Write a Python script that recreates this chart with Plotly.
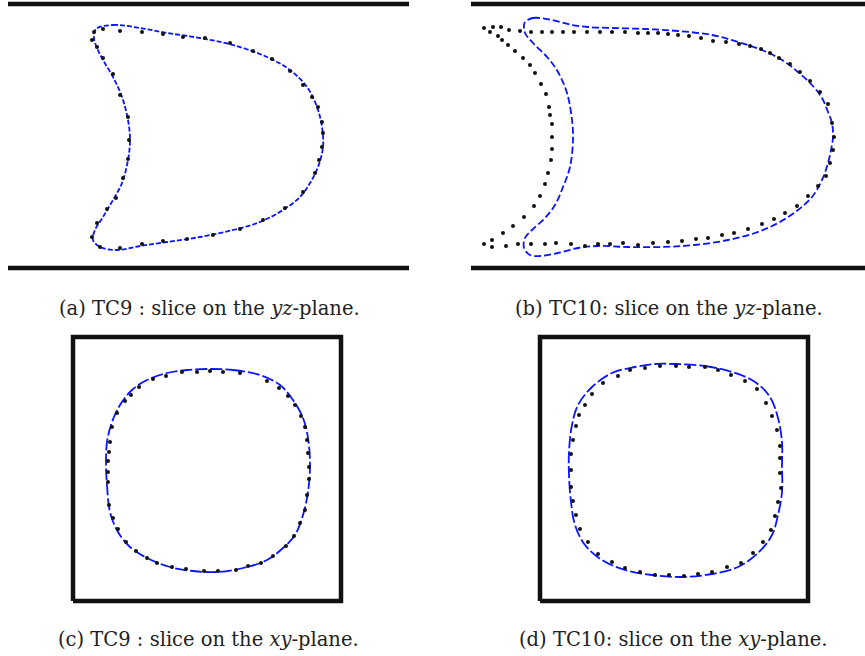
"""Interface slices TC9 / TC10 -- yz and xy planes"""
import plotly.graph_objects as go

W, H = 865, 656

# walls / box, in panel units (1 unit ~ 1 px)
WALL_Z = [0, 264]
WALL_A_X = [0, 401]
WALL_B_X = [0, 394]
BOX_X = [0, 268, 268, 0, 0]
BOX_Y = [0, 0, 264, 264, 0]

# (a) TC9, yz-plane
a_blue = [(88, 239), (105, 243), (132, 240), (159, 235), (192, 230), (225, 223), (259, 211),
          (282, 198), (299, 181), (309, 161), (314, 141), (315, 121), (310, 101), (302, 85),
          (292, 71), (275, 58), (252, 46), (225, 38), (192, 31), (159, 26), (132, 22),
          (109, 18), (92, 21), (85, 28), (87, 38), (95, 51), (105, 68), (114, 85), (120, 108),
          (122, 128), (120, 148), (114, 171), (105, 191), (95, 208), (89, 220), (86, 230),
          (88, 239)]
a_dots = [(86, 236), (95, 239), (112, 237), (134, 236), (155, 234), (175, 231), (197, 230),
          (222, 225), (245, 217), (264, 209), (282, 197), (295, 183), (304, 171), (310, 161),
          (314, 146), (315, 135), (314, 121), (311, 108), (307, 95), (295, 76), (277, 60),
          (255, 48), (232, 39), (205, 33), (179, 29), (155, 27), (134, 24), (112, 20), (92, 21),
          (84, 31), (89, 45), (99, 59), (108, 70), (115, 90), (120, 109), (121, 128), (120, 151),
          (112, 173), (105, 194), (95, 210), (89, 221), (84, 228)]

# (b) TC10, yz-plane
b_blue = [(54, 246), (62, 250), (81, 248), (101, 243), (117, 241), (141, 240), (174, 239),
          (207, 237), (241, 233), (267, 226), (291, 218), (311, 208), (327, 196), (341, 183),
          (351, 170), (357, 156), (361, 145), (362, 131), (360, 118), (357, 105), (351, 88),
          (341, 71), (327, 58), (307, 45), (284, 35), (257, 28), (224, 23), (191, 21), (157, 21),
          (127, 22), (107, 20), (87, 15), (69, 12), (59, 13), (53, 20), (54, 30), (61, 38),
          (74, 50), (84, 63), (92, 81), (99, 101), (102, 128), (101, 148), (96, 175), (87, 196),
          (77, 210), (62, 225), (54, 235), (53, 243), (54, 246)]
b_dots = [(13, 240), (22, 241), (30, 241), (19, 236), (27, 232), (38, 238), (49, 237), (60, 236),
          (71, 236), (81, 236), (92, 236), (103, 236), (116, 236), (129, 236), (141, 236),
          (154, 236), (167, 235), (177, 235), (187, 235), (197, 234), (207, 233), (218, 232),
          (230, 230), (242, 227), (255, 226), (268, 224), (279, 222), (290, 219), (299, 215),
          (308, 210), (319, 204), (329, 196), (339, 187), (349, 176), (357, 164), (361, 145),
          (363, 131), (362, 118), (359, 105), (355, 92), (347, 82), (337, 72), (326, 62),
          (314, 55), (303, 49), (291, 44), (277, 39), (263, 35), (251, 33), (237, 30), (225, 29),
          (211, 27), (197, 26), (182, 25), (167, 23), (152, 25), (139, 24), (127, 24), (114, 22),
          (100, 24), (85, 25), (74, 24), (60, 24), (47, 24), (35, 22), (21, 28), (21, 21),
          (13, 24), (32, 35), (42, 42), (53, 51), (63, 62), (69, 72), (74, 84), (77, 95),
          (80, 108), (81, 119), (81, 131), (81, 144), (79, 153), (78, 161), (75, 174), (70, 184),
          (64, 195), (59, 203), (52, 210), (44, 217), (37, 223), (31, 228)]

# (c) TC9, xy-plane
c_blue = [(134, 232), (160, 231), (187, 226), (207, 216), (220, 201), (230, 183), (235, 163),
          (237, 136), (235, 109), (230, 86), (222, 66), (210, 53), (194, 41), (170, 33),
          (144, 29), (120, 30), (97, 34), (74, 43), (57, 54), (45, 69), (37, 89), (34, 116),
          (33, 136), (34, 159), (39, 179), (47, 196), (59, 211), (74, 221), (94, 228),
          (114, 231), (134, 232)]
c_dots = [(93, 225), (109, 229), (124, 229), (137, 230), (150, 229), (167, 228), (194, 220),
          (206, 213), (215, 205), (222, 196), (228, 185), (232, 174), (234, 161), (235, 148),
          (236, 134), (236, 122), (234, 106), (232, 91), (227, 78), (221, 65), (213, 55),
          (200, 45), (188, 38), (175, 35), (163, 31), (145, 30), (131, 30), (113, 32), (99, 34),
          (84, 38), (74, 43), (63, 50), (53, 59), (45, 72), (40, 83), (36, 96), (35, 119),
          (35, 129), (35, 140), (36, 149), (37, 159), (39, 174), (44, 188), (52, 200), (58, 206),
          (66, 214), (80, 222)]

# (d) TC10, xy-plane
d_blue = [(135, 237), (165, 235), (192, 229), (215, 219), (230, 204), (238, 183), (242, 159),
          (242, 136), (242, 109), (238, 86), (232, 66), (218, 48), (198, 34), (172, 27),
          (142, 24), (112, 26), (85, 31), (62, 41), (45, 56), (35, 76), (31, 99), (29, 126),
          (29, 149), (32, 176), (38, 196), (52, 214), (72, 228), (95, 234), (115, 237),
          (135, 237)]
d_dots = [(120, 235), (136, 235), (149, 234), (165, 234), (178, 231), (191, 226), (205, 220),
          (217, 212), (226, 198), (232, 185), (237, 171), (240, 155), (240, 143), (240, 128),
          (241, 113), (238, 99), (235, 85), (231, 71), (223, 59), (213, 48), (201, 38), (187, 34),
          (172, 29), (158, 27), (144, 25), (129, 26), (115, 26), (100, 29), (85, 33), (72, 39),
          (58, 47), (48, 59), (40, 72), (36, 86), (33, 100), (31, 114), (31, 131), (31, 147),
          (33, 161), (36, 175), (39, 186), (45, 196), (52, 207), (63, 218), (78, 225), (90, 231),
          (105, 233)]

CAPTIONS = ["(a) TC9 : slice on the <i>yz</i>-plane.",
            "(b) TC10: slice on the <i>yz</i>-plane.",
            "(c) TC9 : slice on the <i>xy</i>-plane.",
            "(d) TC10: slice on the <i>xy</i>-plane."]

# panel boxes in page px: (left, top, right, bottom), and where local (0,0) sits
PANELS = [
    dict(box=(0, 0, 420, 280), origin=(8, 268), walls="a", blue=a_blue, dots=a_dots,
         dash="5px,2px", cap=(209, 309)),
    dict(box=(445, 0, 865, 280), origin=(471, 268), walls="b", blue=b_blue, dots=b_dots,
         dash="7px,3px", cap=(669, 309)),
    dict(box=(60, 325, 360, 615), origin=(73, 601), walls="box", blue=c_blue, dots=c_dots,
         dash="12px,3px", cap=(208, 639)),
    dict(box=(525, 325, 825, 615), origin=(540, 601), walls="box", blue=d_blue, dots=d_dots,
         dash="12px,3px", cap=(673, 639)),
]

fig = go.Figure()
layout = {}
for i, p in enumerate(PANELS, start=1):
    l, t, r, b = p["box"]
    ox, oy = p["origin"]
    xa = "x" if i == 1 else f"x{i}"
    ya = "y" if i == 1 else f"y{i}"
    layout["xaxis" if i == 1 else f"xaxis{i}"] = dict(
        domain=[l / W, r / W], range=[l - ox, r - ox], visible=False, anchor=ya)
    layout["yaxis" if i == 1 else f"yaxis{i}"] = dict(
        domain=[1 - b / H, 1 - t / H], range=[oy - b, oy - t], visible=False, anchor=xa)

    wall = dict(color="#111111", width=4.5)
    if p["walls"] == "box":
        fig.add_trace(go.Scatter(x=BOX_X, y=BOX_Y, mode="lines", line=wall,
                                 xaxis=xa, yaxis=ya))
    else:
        wx = WALL_A_X if p["walls"] == "a" else WALL_B_X
        for z in WALL_Z:
            fig.add_trace(go.Scatter(x=wx, y=[z, z], mode="lines", line=wall,
                                     xaxis=xa, yaxis=ya))

    bx, by = zip(*p["blue"])
    fig.add_trace(go.Scatter(x=bx, y=by, mode="lines",
                             line=dict(color="#0a14ff", width=1.8, dash=p["dash"],
                                       shape="spline", smoothing=1.0),
                             xaxis=xa, yaxis=ya))
    dx, dy = zip(*p["dots"])
    fig.add_trace(go.Scatter(x=dx, y=dy, mode="markers",
                             marker=dict(color="#111111", size=4),
                             xaxis=xa, yaxis=ya))

annotations = []
for p, text in zip(PANELS, CAPTIONS):
    cx, cy = p["cap"]
    annotations.append(dict(text=text, x=cx / W, y=1 - cy / H, xref="paper", yref="paper",
                            showarrow=False, xanchor="center", yanchor="middle",
                            font=dict(family="DejaVu Serif", size=19.5, color="#222222")))

fig.update_layout(width=W, height=H, margin=dict(l=0, r=0, t=0, b=0),
                  paper_bgcolor="white", plot_bgcolor="white", showlegend=False,
                  annotations=annotations, **layout)
# page body margin would push the figure 8px off
fig.write_html("out.html", config={"displayModeBar": False},
               post_script="document.body.style.margin = '0';")
